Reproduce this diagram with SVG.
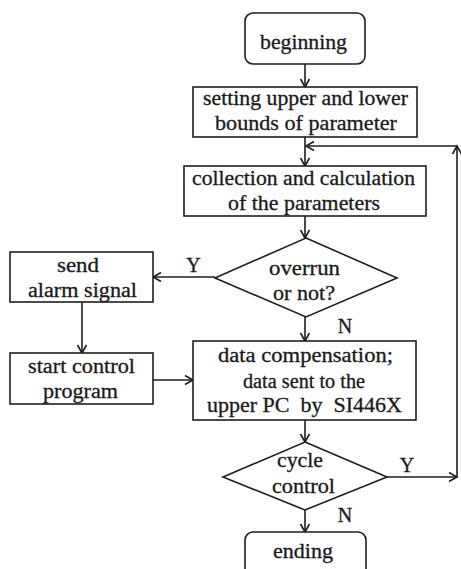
<svg xmlns="http://www.w3.org/2000/svg" width="461" height="569" viewBox="0 0 461 569">
  <style>
    .box { fill: #ffffff; stroke: #1e1e1e; stroke-width: 1.6; }
    .line { fill: none; stroke: #1e1e1e; stroke-width: 1.6; marker-end: url(#arrow); }
    text { font-family: "Liberation Serif", "Times New Roman", serif; font-size: 20px; fill: #1a1a1a; stroke: #1a1a1a; stroke-width: 0.3; text-anchor: middle; }
  </style>
  <defs>
    <marker id="arrow" markerUnits="userSpaceOnUse" markerWidth="12" markerHeight="12" refX="9" refY="5" orient="auto">
      <path d="M1,0.5 L9,5 L1,9.5" fill="none" stroke="#1e1e1e" stroke-width="1.6"/>
    </marker>
  </defs>
  <rect width="461" height="569" fill="#ffffff"/>

  <!-- connectors -->
  <g id="connectors">
    <line class="line" x1="305" y1="64" x2="305" y2="87"/>
    <line class="line" x1="305" y1="137" x2="305" y2="166"/>
    <line class="line" x1="305" y1="216" x2="305" y2="238"/>
    <line class="line" x1="215" y1="277" x2="153" y2="277"/>
    <line class="line" x1="82" y1="302" x2="82" y2="353"/>
    <line class="line" x1="153" y1="380" x2="193" y2="380"/>
    <line class="line" x1="305" y1="317" x2="305" y2="341"/>
    <line class="line" x1="305" y1="420" x2="305" y2="442"/>
    <line class="line" x1="305" y1="510" x2="305" y2="532"/>
    <!-- loop back from cycle control -->
    <line class="line" x1="387" y1="477" x2="457" y2="477"/>
    <line class="line" x1="457" y1="477" x2="457" y2="146"/>
    <line class="line" x1="457" y1="146" x2="306" y2="146"/>
    <text x="193.5" y="272">Y</text>
    <text x="345" y="333">N</text>
    <text x="407" y="472">Y</text>
    <text x="345" y="522">N</text>
  </g>

  <g id="beginning">
    <rect class="box" x="245" y="13" width="120" height="51" rx="8"/>
    <text x="303.5" y="49" textLength="87" lengthAdjust="spacingAndGlyphs">beginning</text>
  </g>

  <g id="set-bounds">
    <rect class="box" x="193" y="87" width="224" height="50"/>
    <text x="305.5" y="105" textLength="205" lengthAdjust="spacingAndGlyphs">setting upper and lower</text>
    <text x="306" y="130" textLength="182" lengthAdjust="spacingAndGlyphs">bounds of parameter</text>
  </g>

  <g id="collect">
    <rect class="box" x="184" y="166" width="242" height="50"/>
    <text x="303.5" y="185" textLength="223" lengthAdjust="spacingAndGlyphs">collection and calculation</text>
    <text x="304" y="210" textLength="152" lengthAdjust="spacingAndGlyphs">of the parameters</text>
  </g>

  <g id="overrun">
    <polygon class="box" points="306,238 397,278 306,317 215,278"/>
    <text x="304.5" y="275" textLength="71" lengthAdjust="spacingAndGlyphs">overrun</text>
    <text x="304" y="300" textLength="62" lengthAdjust="spacingAndGlyphs">or not?</text>
  </g>

  <g id="alarm">
    <rect class="box" x="10" y="252" width="143" height="50"/>
    <text x="78" y="272" textLength="42" lengthAdjust="spacingAndGlyphs">send</text>
    <text x="82.5" y="297" textLength="109" lengthAdjust="spacingAndGlyphs">alarm signal</text>
  </g>

  <g id="control-program">
    <rect class="box" x="10" y="353" width="143" height="51"/>
    <text x="81.5" y="373" textLength="107" lengthAdjust="spacingAndGlyphs">start control</text>
    <text x="80.5" y="398" textLength="75" lengthAdjust="spacingAndGlyphs">program</text>
  </g>

  <g id="compensation">
    <rect class="box" x="193" y="341" width="223" height="79"/>
    <text x="305.5" y="362" textLength="175" lengthAdjust="spacingAndGlyphs">data compensation;</text>
    <text x="304" y="388" textLength="122" lengthAdjust="spacingAndGlyphs">data sent to the</text>
    <text x="304.5" y="412" textLength="195" lengthAdjust="spacingAndGlyphs" xml:space="preserve">upper PC  by  SI446X</text>
  </g>

  <g id="cycle">
    <polygon class="box" points="305,442 387,477 305,510 223,477"/>
    <text x="300" y="467" textLength="46" lengthAdjust="spacingAndGlyphs">cycle</text>
    <text x="303.5" y="493" textLength="63" lengthAdjust="spacingAndGlyphs">control</text>
  </g>

  <g id="ending">
    <rect class="box" x="245" y="532" width="121" height="50" rx="8"/>
    <text x="303" y="558" textLength="60" lengthAdjust="spacingAndGlyphs">ending</text>
  </g>
</svg>
